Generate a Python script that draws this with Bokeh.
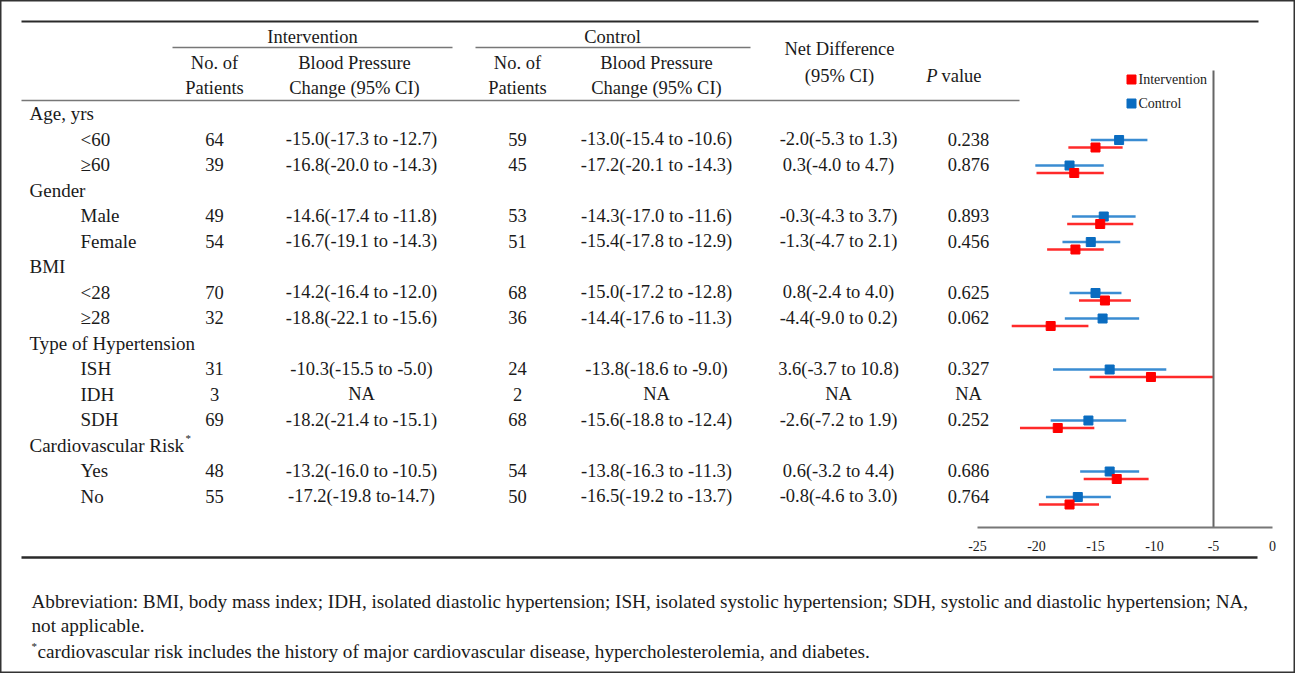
from bokeh.plotting import figure
from bokeh.models import Range1d, ColumnDataSource
from bokeh.core.properties import value
from bokeh.embed import file_html
from bokeh.resources import INLINE

# ---------------- data ----------------
row_labels = ["Age, yrs", "<60", "≥60", "Gender", "Male", "Female", "BMI", "<28", "≥28",
              "Type of Hypertension", "ISH", "IDH", "SDH", "Cardiovascular Risk", "Yes", "No"]
row_is_group = [True, False, False, True, False, False, True, False, False,
                True, False, False, False, True, False, False]
int_n = ["", "64", "39", "", "49", "54", "", "70", "32", "", "31", "3", "69", "", "48", "55"]
int_bp = ["", "-15.0(-17.3 to -12.7)", "-16.8(-20.0 to -14.3)", "",
          "-14.6(-17.4 to -11.8)", "-16.7(-19.1 to -14.3)", "",
          "-14.2(-16.4 to -12.0)", "-18.8(-22.1 to -15.6)", "",
          "-10.3(-15.5 to -5.0)", "NA", "-18.2(-21.4 to -15.1)", "",
          "-13.2(-16.0 to -10.5)", "-17.2(-19.8 to-14.7)"]
ctl_n = ["", "59", "45", "", "53", "51", "", "68", "36", "", "24", "2", "68", "", "54", "50"]
ctl_bp = ["", "-13.0(-15.4 to -10.6)", "-17.2(-20.1 to -14.3)", "",
          "-14.3(-17.0 to -11.6)", "-15.4(-17.8 to -12.9)", "",
          "-15.0(-17.2 to -12.8)", "-14.4(-17.6 to -11.3)", "",
          "-13.8(-18.6 to -9.0)", "NA", "-15.6(-18.8 to -12.4)", "",
          "-13.8(-16.3 to -11.3)", "-16.5(-19.2 to -13.7)"]
net_diff = ["", "-2.0(-5.3 to 1.3)", "0.3(-4.0 to 4.7)", "",
            "-0.3(-4.3 to 3.7)", "-1.3(-4.7 to 2.1)", "",
            "0.8(-2.4 to 4.0)", "-4.4(-9.0 to 0.2)", "",
            "3.6(-3.7 to 10.8)", "NA", "-2.6(-7.2 to 1.9)", "",
            "0.6(-3.2 to 4.4)", "-0.8(-4.6 to 3.0)"]
p_values = ["", "0.238", "0.876", "", "0.893", "0.456", "", "0.625", "0.062", "",
            "0.327", "NA", "0.252", "", "0.686", "0.764"]

# forest plot values (IDH not applicable -> not drawn)
forest_labels = ["<60", "≥60", "Male", "Female", "<28", "≥28", "ISH", "SDH", "Yes", "No"]
int_mean = [-15.0, -16.8, -14.6, -16.7, -14.2, -18.8, -10.3, -18.2, -13.2, -17.2]
int_lo = [-17.3, -20.0, -17.4, -19.1, -16.4, -22.1, -15.5, -21.4, -16.0, -19.8]
int_hi = [-12.7, -14.3, -11.8, -14.3, -12.0, -15.6, -5.0, -15.1, -10.5, -14.7]
ctl_mean = [-13.0, -17.2, -14.3, -15.4, -15.0, -14.4, -13.8, -15.6, -13.8, -16.5]
ctl_lo = [-15.4, -20.1, -17.0, -17.8, -17.2, -17.6, -18.6, -18.8, -16.3, -19.2]
ctl_hi = [-10.6, -14.3, -11.6, -12.9, -12.8, -11.3, -9.0, -12.4, -11.3, -13.7]

axis_ticks = [-25, -20, -15, -10, -5, 0]
axis_tick_labels = ["-25", "-20", "-15", "-10", "-5", "0"]
ref_value = -5

series_names = ["Intervention", "Control"]

footnote_1 = ("Abbreviation: BMI, body mass index; IDH, isolated diastolic hypertension; "
              "ISH, isolated systolic hypertension; SDH, systolic and diastolic hypertension; NA,")
footnote_2 = "not applicable."
footnote_3 = "cardiovascular risk includes the history of major cardiovascular disease, hypercholesterolemia, and diabetes."

# ---------------- layout ----------------
W, H = 1295, 673
FONT = value("Liberation Serif")
FS = "18.5px"
FS_LAB = "19px"
FS_NOTE = "19.2px"
RED = "#FF0000"
RED_LINE = "#FF2A2A"
BLUE = "#0A6CC0"
BLUE_LINE = "#3A8CD2"
INK = "#1a1a1a"

ROW0 = 113.0
ROWH = 25.5
row_y = [ROW0 + ROWH * i for i in range(len(row_labels))]

# forest axis: value 0 at x=1272 px, 11.8 px per unit
F0, PX = 1272.0, 11.8

p = figure(width=W, height=H, x_range=Range1d(0, W), y_range=Range1d(H, 0),
           output_backend="svg", toolbar_location=None,
           x_axis_location=None, y_axis_location=None, min_border=0)
p.grid.visible = False
p.outline_line_color = "#333333"
p.outline_line_width = 2
p.background_fill_color = "white"
p.extra_x_ranges = {"forest": Range1d(-F0 / PX, (W - F0) / PX)}


def txt(x, y, t, align="left", size=FS, style="normal", color=INK):
    p.text(x=[x], y=[y], text=[t], text_font=FONT, text_font_size=size,
           text_align=align, text_baseline="middle", text_font_style=style,
           text_color=color)


# rule lines
p.segment(x0=[21], x1=[1258], y0=[21], y1=[21], line_color="#2a2a2a", line_width=2.2)
p.segment(x0=[172, 475], x1=[452, 750], y0=[47, 47], y1=[47, 47], line_color="#777777", line_width=1.6)
p.segment(x0=[21], x1=[1019], y0=[100], y1=[100], line_color="#777777", line_width=1.6)
p.segment(x0=[21], x1=[1257], y0=[557], y1=[557], line_color="#2a2a2a", line_width=2.5)

# column headers
txt(312, 36, "Intervention", "center")
txt(612, 36, "Control", "center")
for cx in (214, 517):
    txt(cx, 62, "No. of", "center")
    txt(cx, 87, "Patients", "center")
for cx in (354, 656):
    txt(cx, 62, "Blood Pressure", "center")
    txt(cx, 87, "Change (95% CI)", "center")
txt(839, 48, "Net Difference", "center")
txt(839, 75, "(95% CI)", "center")
txt(937, 75, "P", "right", style="italic")
txt(941, 75, "value", "left")

# table body
lab_x = [29 if g else 80 for g in row_is_group]
src = ColumnDataSource(dict(y=row_y, lab=row_labels, lx=lab_x, n1=int_n, b1=int_bp,
                            n2=ctl_n, b2=ctl_bp, nd=net_diff, pv=p_values))
common = dict(text_font=FONT, text_baseline="middle", text_color=INK, source=src)
p.text(x="lx", y="y", text="lab", text_align="left", text_font_size=FS_LAB, **common)
p.text(x=214, y="y", text="n1", text_align="center", text_font_size=FS, **common)
p.text(x=361, y="y", text="b1", text_align="center", text_font_size=FS, **common)
p.text(x=517, y="y", text="n2", text_align="center", text_font_size=FS, **common)
p.text(x=656, y="y", text="b2", text_align="center", text_font_size=FS, **common)
p.text(x=838, y="y", text="nd", text_align="center", text_font_size=FS, **common)
p.text(x=968, y="y", text="pv", text_align="center", text_font_size=FS, **common)
# superscript asterisk
cv_y = row_y[row_labels.index("Cardiovascular Risk")]
txt(185, cv_y - 7, "*", "left", size="11px")

# forest plot
fy = [row_y[row_labels.index(l)] for l in forest_labels]
fsrc = ColumnDataSource(dict(yb=[y + 1 for y in fy], yr=[y + 8.5 for y in fy],
                             im=int_mean, il=int_lo, ih=int_hi,
                             cm=ctl_mean, cl=ctl_lo, ch=ctl_hi))
p.segment(x0="cl", x1="ch", y0="yb", y1="yb", line_color=BLUE_LINE, line_width=2.4,
          source=fsrc, x_range_name="forest")
p.segment(x0="il", x1="ih", y0="yr", y1="yr", line_color=RED_LINE, line_width=2.4,
          source=fsrc, x_range_name="forest")
p.scatter(x="cm", y="yb", marker="square", size=9, fill_color=BLUE, line_color=BLUE,
          source=fsrc, x_range_name="forest")
p.scatter(x="im", y="yr", marker="square", size=9, fill_color=RED, line_color=RED,
          source=fsrc, x_range_name="forest")

# reference line and axis
p.segment(x0=[ref_value], x1=[ref_value], y0=[70], y1=[527], line_color="#666666",
          line_width=2, x_range_name="forest")
p.segment(x0=[axis_ticks[0]], x1=[axis_ticks[-1]], y0=[527], y1=[527], line_color="#777777",
          line_width=2, x_range_name="forest")
p.text(x=axis_ticks, y=[545] * len(axis_ticks), text=axis_tick_labels, text_font=FONT,
       text_font_size="14px", text_align="center", text_baseline="middle",
       text_color=INK, x_range_name="forest")

# legend
p.scatter(x=[1131, 1131], y=[79, 103], marker="square", size=9,
          fill_color=[RED, BLUE], line_color=[RED, BLUE])
p.text(x=[1138, 1138], y=[79, 103], text=series_names, text_font=FONT, text_font_size="14px",
       text_align="left", text_baseline="middle", text_color=INK)

# footnotes
txt(31, 601, footnote_1, "left", size=FS_NOTE)
txt(31, 625, footnote_2, "left", size=FS_NOTE)
txt(31, 645, "*", "left", size="11px")
txt(37, 651, footnote_3, "left", size=FS_NOTE)

open("out.html", "w").write(file_html(p, INLINE))
